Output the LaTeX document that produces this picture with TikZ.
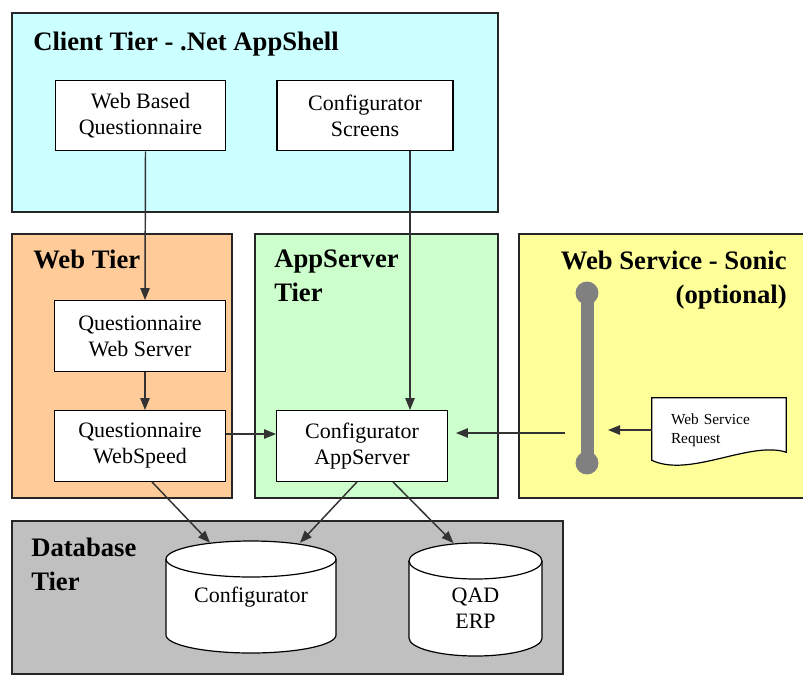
\documentclass[tikz,border=0pt]{standalone}
\usepackage{fontspec}
\setmainfont{Liberation Serif}
\usetikzlibrary{arrows.meta,calc}
\definecolor{clientcol}{HTML}{CCFFFF}
\definecolor{webcol}{HTML}{FFCC99}
\definecolor{appcol}{HTML}{CCFFCC}
\definecolor{sonicol}{HTML}{FFFF99}
\definecolor{dbcol}{HTML}{C0C0C0}
\definecolor{buscol}{HTML}{808080}
\tikzset{
  tier/.style={draw=black!85, line width=0.9pt},
  tiertitle/.style={font=\fontsize{20}{25.5}\selectfont\bfseries, inner sep=0pt, align=left},
  procbox/.style={draw, fill=white, line width=0.9pt, minimum width=128pt, minimum height=53pt,
    align=center, font=\fontsize{16.5}{19.5}\selectfont},
  dbstore/.style={inner sep=0pt, align=center, font=\fontsize{16.5}{19.5}\selectfont},
  dbline/.style={draw, fill=white, line width=0.9pt},
  arr/.style={-{Triangle[length=9pt,width=7pt]}, line width=1.1pt, draw=black!80},
}
\begin{document}
\begin{tikzpicture}[x=0.75pt,y=-0.75pt]
\useasboundingbox (0,0) rectangle (803,679);

% tiers
\draw[tier, fill=clientcol] (12,13) rectangle (498,212);
\draw[tier, fill=webcol] (12,234) rectangle (232,498);
\draw[tier, fill=appcol] (255,234) rectangle (498,498);
\draw[tier, fill=sonicol] (519,234) rectangle (804,498);
\draw[tier, fill=dbcol] (12,521) rectangle (563,674);

\node[tiertitle, anchor=base west] (clienttitle) at (33,50) {Client Tier - .Net AppShell};
\node[tiertitle, anchor=base west] (webtitle) at (33,268) {Web Tier};
\node[tiertitle, anchor=north west] (apptitle) at (274,250) {AppServer\\Tier};
\node[tiertitle, anchor=north east, align=right] (sonictitle) at (787,251) {Web Service - Sonic\\(optional)};
\node[tiertitle, anchor=north west] (dbtitle) at (31,538) {Database\\Tier};

% boxes
\node[procbox] (wbq) at (140.5,115.5) {Web Based\\Questionnaire};
\node[procbox, minimum width=132pt] (cscr) at (365,115.5) {Configurator\\Screens};
\node[procbox] (qws) at (140,336) {Questionnaire\\Web Server};
\node[procbox] (qwsp) at (140,446) {Questionnaire\\WebSpeed};
\node[procbox] (cas) at (362,446) {Configurator\\AppServer};

% databases
\draw[dbline] (166,559) -- (166,635) arc[start angle=180,end angle=360,x radius=63.75pt,y radius=13.5pt]
  -- (336,559) arc[start angle=0,end angle=180,x radius=63.75pt,y radius=13.5pt] -- cycle;
\draw[line width=0.9pt] (166,559) arc[start angle=180,end angle=360,x radius=63.75pt,y radius=13.5pt];
\node[dbstore, minimum width=127.5pt, minimum height=84pt] (cfgdb) at (251,597) {Configurator};

\draw[dbline] (409,561) -- (409,638) arc[start angle=180,end angle=360,x radius=49.9pt,y radius=13.5pt]
  -- (542,561) arc[start angle=0,end angle=180,x radius=49.9pt,y radius=13.5pt] -- cycle;
\draw[line width=0.9pt] (409,561) arc[start angle=180,end angle=360,x radius=49.9pt,y radius=13.5pt];
\node[dbstore, minimum width=100pt, minimum height=85pt] (qaddb) at (475.5,608) {QAD\\ERP};

% sonic bus
\coordinate (bustop) at (587,293);
\coordinate (busbot) at (587,463);
\coordinate (busin) at (608,433);
\coordinate (busout) at (565,433);
\draw[buscol, line width=9.75pt] (bustop) -- (busbot);
\fill[buscol] (bustop) circle[radius=8.6pt] (busbot) circle[radius=8.6pt];

% request document
\node[text width=72pt, minimum width=100.5pt, minimum height=48pt, inner sep=0pt] (wsreq) at (719,430) {};
\draw[fill=white, line width=0.9pt] (wsreq.north west) -- (wsreq.north east)
  -- ($(wsreq.south east)+(0,-10)$)
  .. controls ($(wsreq.south east)+(-36,-22)$) and ($(wsreq.south west)+(38,16)$) .. ($(wsreq.south west)+(0,-2)$)
  -- cycle;
\node[font=\fontsize{11.5}{14}\selectfont, text width=72pt, align=left, inner sep=0pt] (wsreqtext) at (wsreq) {Web Service\\Request};

% connectors
\draw[arr] ($(wbq.south)+(5,0)$) -- ($(qws.north)+(5,0)$);
\draw[arr] ($(qws.south)+(5,0)$) -- ($(qwsp.north)+(5,0)$);
\draw[arr] ($(cscr.south)+(45,0)$) -- ($(cas.north)+(48,0)$);
\draw[arr] ($(qwsp.east)+(0,-12)$) -- ($(cas.west)+(0,-12)$);
\draw[arr, shorten >=6pt] (busout) -- (busout -| cas.east);
\draw[arr] (wsreq.west) -- (wsreq.west -| busin);
\draw[arr] ($(qwsp.south)+(12,0)$) -- ($(cfgdb.north)+(-41,2)$);
\draw[arr] ($(cas.south)+(-5,0)$) -- ($(cfgdb.north)+(49,2)$);
\draw[arr] ($(cas.south)+(31,0)$) -- ($(qaddb.north)+(-22,-8)$);
\end{tikzpicture}
\end{document}
